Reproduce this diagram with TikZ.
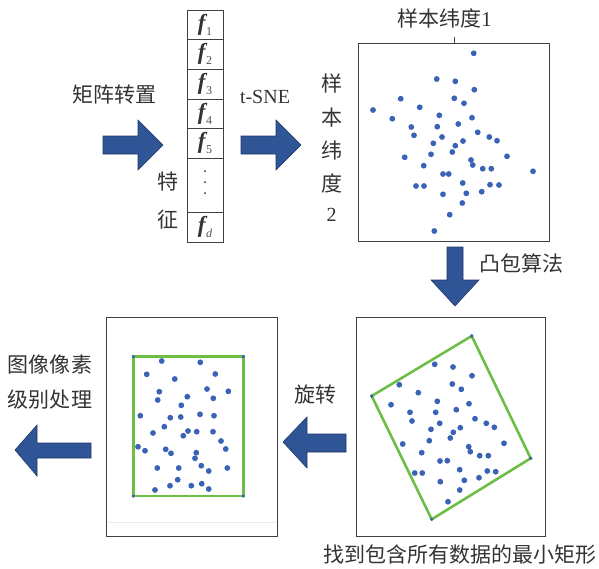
\documentclass[tikz,border=0pt]{standalone}
\usepackage{fontspec}
\setmainfont{Liberation Serif}
\newfontfamily\cjk{Noto Sans CJK SC}
\definecolor{arrblue}{HTML}{2F5597}
\definecolor{arredge}{HTML}{1F3864}
\definecolor{dotblue}{HTML}{3A62B7}
\definecolor{hullgreen}{HTML}{6CBE45}
\definecolor{txt}{HTML}{333333}
\definecolor{frame}{HTML}{404040}
\newcommand\fsub[1]{{\bfseries\itshape f}\kern0.5pt\raisebox{-5pt}{\fontsize{12}{12}\selectfont\color{txt!85} #1}}
\begin{document}
\begin{tikzpicture}[x=1pt,y=-1pt,
  panel/.style={draw=frame, line width=1pt, inner sep=0pt},
  cell/.style={draw=frame, line width=0.9pt, minimum width=36pt, inner sep=0pt, font=\fontsize{23}{23}\selectfont, text=txt},
  blockarrow/.style={fill=arrblue, draw=arredge, line width=0.6pt, line join=miter},
  sdot/.style={fill=dotblue},
  hull/.style={draw=hullgreen, line width=2.6pt, line join=miter},
  lab/.style={font=\cjk\fontsize{21}{21}\selectfont, text=txt, inner sep=0pt},
  latin/.style={font=\fontsize{20}{20}\selectfont, text=txt, inner sep=0pt}]
\useasboundingbox (0,0) rectangle (599,568);

% feature column
\node[cell, minimum height=29pt] (f1) at (205,24.5) {\fsub{1}};
\node[cell, minimum height=30pt] (f2) at (205,54) {\fsub{2}};
\node[cell, minimum height=30pt] (f3) at (205,84) {\fsub{3}};
\node[cell, minimum height=29pt] (f4) at (205,113.5) {\fsub{4}};
\node[cell, minimum height=30pt] (f5) at (205,143) {\fsub{5}};
\node[cell, minimum height=54pt] (fdots) at (205,185) {};
\node[cell, minimum height=30pt] (fd) at (205,227) {\fsub{\itshape d}};
\foreach \yy in {171,182,193} \fill[txt] (205,\yy) circle (1pt);

% panels
\node[panel, minimum width=191pt, minimum height=198pt] (box1) at (453.5,142) {};
\node[panel, minimum width=189.3pt, minimum height=218.7pt] (box3) at (451.3,427.3) {};
\node[panel, minimum width=171pt, minimum height=218.7pt] (box4) at (191.5,427.3) {};
\draw[frame, line width=0.8pt] (454,37) -- (454,43);
\draw[gray!15, line width=0.8pt] (106.5,522) -- (276.8,522);

% scatter 1
\foreach \x/\y in {473.7/53.3, 436.7/79, 455.3/81.3, 474.3/89.7, 400.7/98.7, 454.3/98.3, 464/103.3,
  419.7/107.3, 373/110, 392.3/118.7, 439.3/115.3, 472/117.7, 411.3/127, 437.3/126.7, 458.3/124,
  414/135.3, 442/137, 477.7/132.3, 489.3/137, 497/140.7, 433.3/143.3, 463/141, 455.3/145.7,
  452.3/152, 404.7/157.3, 431/154.3, 507/156.3, 471/160, 472.7/165, 423.7/165.7, 482.7/168.7,
  491.3/168.7, 533/171.3, 443/174, 448.7/174, 462.7/183, 416/186, 424/186, 490/184.7, 499/185,
  443/194.3, 466.3/193.3, 481.7/191.7, 462.3/203, 449.7/214.7, 434.3/231}
  \fill[sdot] (\x,\y) circle (2.9pt);

% scatter 3 (rotated hull)
\coordinate (ha) at (471.7,336);
\coordinate (hb) at (371.7,396);
\coordinate (hc) at (431.7,519.3);
\coordinate (hd) at (530.7,458.3);
\draw[hull] (ha) -- (hb) -- (hc) -- (hd) -- cycle;
\foreach \c in {ha,hb,hc,hd} \fill[sdot] (\c) circle (1.8pt);
\foreach \x/\y in {434.7/364.3, 453/367, 472/375.7, 399.3/384.7, 452.3/384, 461.3/389.3, 418.3/392.7,
  391/404.7, 437.3/401.3, 469/403.7, 410/412.3, 435.7/412.3, 456.3/409.7, 412/421, 439.7/423.3,
  475/418.7, 486.3/423.3, 494.3/427.3, 431/429.3, 460.3/427.7, 453.3/432.3, 450.3/438, 429.3/440.7,
  402.7/444, 504/443.3, 468.7/446.7, 470.3/451.7, 421.7/452.7, 479.7/455.7, 488.3/455.7, 440/461,
  447.3/460.7, 459.7/469.7, 414.7/473, 422.3/473, 487.3/471, 495.7/471.7, 440.3/481.7, 464.3/480.3,
  479/477.7, 459.7/490, 448/501.7}
  \fill[sdot] (\x,\y) circle (2.9pt);

% scatter 4 (aligned hull)
\coordinate (ga) at (133.3,356.7);
\coordinate (gb) at (243.3,356.7);
\coordinate (gc) at (243.3,496);
\coordinate (gd) at (133.3,496);
\draw[hull] (ga) -- (gb) -- (gc) -- (gd) -- cycle;
\foreach \c in {ga,gb,gc,gd} \fill[sdot] (\c) circle (1.8pt);
\foreach \x/\y in {161.7/361, 200.3/362.3, 146.7/374.3, 215.3/374, 174.7/379, 159.3/391.7, 207/389,
  228.3/391.3, 157.7/400, 187.3/396.7, 213.3/398.3, 181.3/405.3, 140.3/415.7, 170.3/417.7, 180.7/417,
  200/414.3, 214/415.7, 164.3/426.7, 153/433, 188/431, 183.3/435.7, 196.7/431.7, 213/431.7, 221/441,
  138/446.7, 145/450.7, 165.7/449.3, 171/453.3, 225.7/449, 196.3/452.7, 195/458.3, 157.3/468,
  178.7/468, 201.3/465.7, 208.7/471, 227.3/468, 177.7/479.7, 155/490, 170/485.7, 191.3/485.7,
  201.7/483.7, 208.7/489}
  \fill[sdot] (\x,\y) circle (2.9pt);

% block arrows
\draw[blockarrow] (103,136) -- (138,136) -- (138,120) -- (163,145) -- (138,170) -- (138,154) -- (103,154) -- cycle;
\draw[blockarrow] (241,136) -- (276,136) -- (276,120) -- (301,145) -- (276,170) -- (276,154) -- (241,154) -- cycle;
\draw[blockarrow] (447,247) -- (463,247) -- (463,280) -- (479,280) -- (455,306) -- (431,280) -- (447,280) -- cycle;
\draw[blockarrow] (346,434) -- (307,434) -- (307,417) -- (283,442) -- (307,468) -- (307,452) -- (346,452) -- cycle;
\draw[blockarrow] (91,443) -- (37,443) -- (37,425) -- (15,450) -- (37,476) -- (37,458) -- (91,458) -- cycle;

% labels
\node[lab] (ljz) at (114.5,95) {矩阵转置};
\node[latin] (ltsne) at (265,97) {t-SNE};
\node[lab] (lte) at (168,182) {特};
\node[lab] (lzheng) at (168,220) {征};
\node[lab] (ldim1) at (444.7,18) {样本纬度{\rmfamily 1}};
\node[lab] (v1) at (331.7,83) {样};
\node[lab] (v2) at (331.7,118) {本};
\node[lab] (v3) at (331.7,150) {纬};
\node[lab] (v4) at (331.7,183) {度};
\node[latin] (v5) at (331.7,215) {2};
\node[lab] (ltb) at (521,263) {凸包算法};
\node[lab] (lxz) at (315,395) {旋转};
\node[lab] (lp1) at (50,365) {图像像素};
\node[lab] (lp2) at (50,400) {级别处理};
\node[lab] (lmin) at (460,555) {找到包含所有数据的最小矩形};
\end{tikzpicture}
\end{document}
